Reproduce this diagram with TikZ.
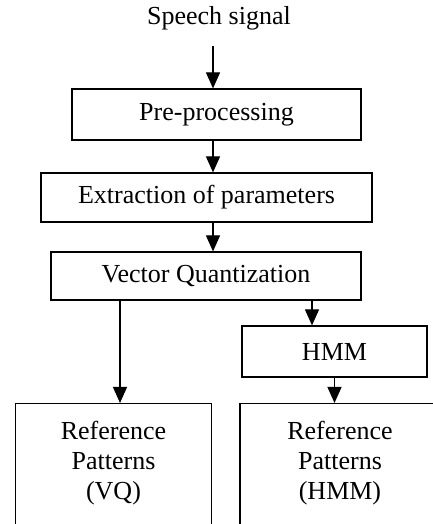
\documentclass[tikz,border=0pt]{standalone}
\usepackage{fontspec}
\setmainfont{Liberation Serif}
\usepackage{tikz}
\usetikzlibrary{arrows.meta}

\begin{document}
\begin{tikzpicture}[x=0.5pt,y=0.5pt,
  font=\fontsize{13}{15}\selectfont,
  stage/.style={draw,line width=0.6pt,inner sep=0pt},
  refbox/.style={draw,line width=0.6pt,anchor=north,inner xsep=0pt,inner ysep=9pt},
  flow/.style={line width=0.6pt,-{Triangle[length=8pt,width=7pt]}}]
\useasboundingbox (0,0) rectangle (433,524);
\clip (0,0) rectangle (433,524);
\fill[white] (0,0) rectangle (433,524);
% processing chain
\node[anchor=base] (sig) at (219,499) {Speech signal};
\node[stage,minimum width=144.5pt,minimum height=25.5pt] (pre) at (216.5,409.5) {Pre-processing};
\node[stage,minimum width=165.5pt,minimum height=24.5pt] (extr) at (206.5,326.5) {Extraction of parameters};
\node[stage,minimum width=155pt,minimum height=24pt] (vq) at (206,248) {Vector Quantization};
\node[stage,minimum width=92.5pt,minimum height=25.5pt] (hmm) at (334.5,172.5) {HMM};
% reference pattern boxes
\node[refbox] (refvq) at (113.5,121) {\parbox[b][72pt][t]{98pt}{\centering Reference\\Patterns\\(VQ)}};
\node[refbox] (refhmm) at (340,121) {\parbox[b][72pt][t]{100pt}{\centering Reference\\Patterns\\(HMM)}};
% arrows
\coordinate (spine) at (213,0);
\coordinate (vqleft) at (120,0);
\coordinate (vqright) at (312,0);
\draw[flow] (spine |- 478,478) -- (pre.north -| spine);
\draw[flow] (pre.south -| spine) -- (extr.north -| spine);
\draw[flow] (extr.south -| spine) -- (vq.north -| spine);
\draw[flow] (vq.south -| vqleft) -- (refvq.north -| vqleft);
\draw[flow] (vq.south -| vqright) -- (hmm.north -| vqright);
\draw[flow] (hmm.south) -- (refhmm.north -| hmm.south);
\end{tikzpicture}
\end{document}
